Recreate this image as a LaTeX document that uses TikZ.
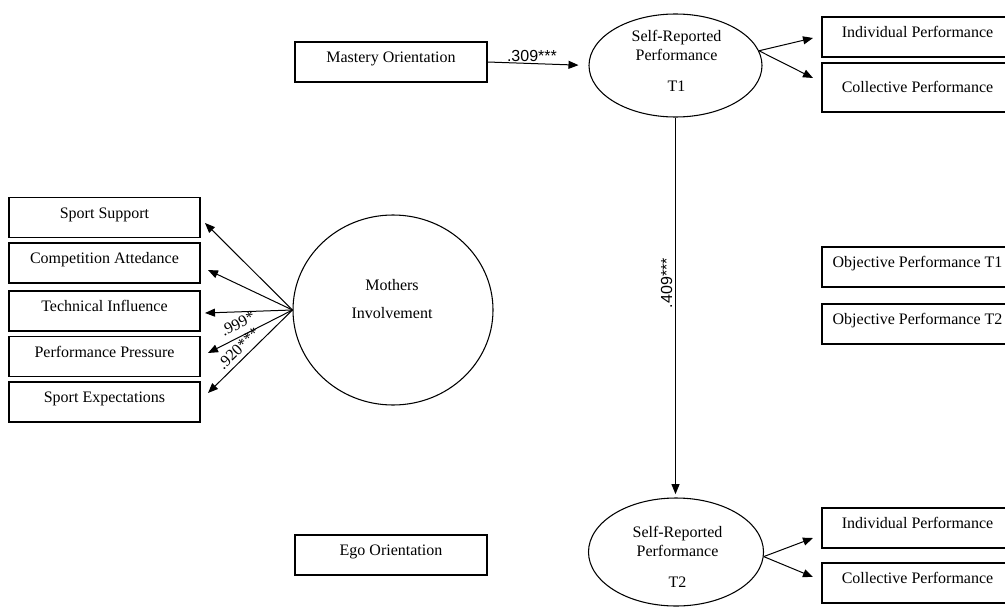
\documentclass[tikz,border=0pt]{standalone}
\usepackage{fontspec}
\setmainfont{Liberation Serif}
\newfontfamily\sansf{Liberation Sans}
\usetikzlibrary{arrows.meta,shapes.geometric}
\begin{document}
\begin{tikzpicture}[x=0.75pt,y=-0.75pt,
  every node/.style={font=\fontsize{12pt}{14pt}\selectfont},
  bx/.style={draw, line width=0.8pt, inner xsep=0pt, inner ysep=0pt,
    text height=15.5pt, text depth=14.5pt, minimum width=#1},
  bx/.default=143.25pt,
  lat/.style={draw, ellipse, line width=0.8pt, inner sep=0pt},
  lbl/.style={align=center, inner sep=0pt},
  arr/.style={-{Triangle[length=7.5pt,width=6pt]}, line width=0.75pt},
  sl/.style={font=\sansf\fontsize{12pt}{14pt}\selectfont},
  rl/.style={font=\rmfamily\fontsize{12pt}{14pt}\selectfont, inner sep=0pt}
]
\useasboundingbox (0,0) rectangle (1005,610);
\clip (0,0) rectangle (1005,610);

% observed variables
\node[bx=144pt] (mo) at (391,62) {Mastery Orientation};
\node[bx=144pt] (ego) at (391,555) {Ego Orientation};
\node[bx] (ss) at (104.5,217.5) {Sport Support};
\node[bx] (ca) at (104.5,263) {Competition Attedance};
\node[bx] (ti) at (104.5,311) {Technical Influence};
\node[bx] (pp) at (104.5,356.5) {Performance Pressure};
\node[bx] (se) at (104.5,402) {Sport Expectations};
\node[bx] (ib1) at (917.5,37) {Individual Performance};
\node[bx, text height=21.75pt, text depth=15pt] (cb1) at (917.5,87.5) {Collective Performance};
\node[bx] (ob1) at (917.5,267) {Objective Performance T1};
\node[bx] (ob2) at (917.5,324) {Objective Performance T2};
\node[bx] (ib2) at (917.5,528) {Individual Performance};
\node[bx] (cb2) at (917.5,583) {Collective Performance};

% latent variables
\node[lat, minimum width=129.75pt, minimum height=77.25pt] (t1) at (675.5,65.5) {};
\node[lbl] (t1t) at (676.5,61) {Self-Reported\\Performance\\[9pt]T1};
\node[lat, minimum width=131.25pt, minimum height=81pt] (t2) at (676,552) {};
\node[lbl] (t2t) at (677.5,557) {Self-Reported\\Performance\\[9pt]T2};
\node[lat, minimum width=150pt, minimum height=142.5pt] (mi) at (393,310) {};
\node[lbl, font=\fontsize{12pt}{21pt}\selectfont] (mit) at (392,299) {Mothers\\Involvement};

% arrow end points
\coordinate (ssT) at (205,223);
\coordinate (caT) at (208,270);
\coordinate (tiT) at (205,313);
\coordinate (ppT) at (208,353);
\coordinate (seT) at (208,393);
\coordinate (ib1T) at (813,38);
\coordinate (cb1T) at (813,78);
\coordinate (ib2T) at (813,538);
\coordinate (cb2T) at (813,577);

% connectors
\draw[arr, shorten >=7.5pt] (mo.east) -- (t1.west)
  node[pos=0.44, above=1pt, inner sep=0pt, sl] (l309) {.309***};
\draw[arr, shorten >=2.5pt] (t1.south) -- (t1.south |- t2.north)
  node[pos=0.436, rotate=90, anchor=south, inner sep=2pt, sl] (l409) {.409***};
\draw[arr] (t1.10) -- (ib1T);
\draw[arr] (t1.10) -- (cb1T);
\draw[arr] (t2.-3) -- (ib2T);
\draw[arr] (t2.-3) -- (cb2T);
\draw[arr] (mi.west) -- (ssT);
\draw[arr] (mi.west) -- (caT);
\draw[arr] (mi.west) -- (tiT);
\draw[arr] (mi.west) -- (ppT)
  node[pos=0.58, sloped, above=5pt, rl] (l999) {.999*};
\draw[arr] (mi.west) -- (seT)
  node[pos=0.55, sloped, above=3.5pt, rl] (l920) {.920***};
\end{tikzpicture}
\end{document}
